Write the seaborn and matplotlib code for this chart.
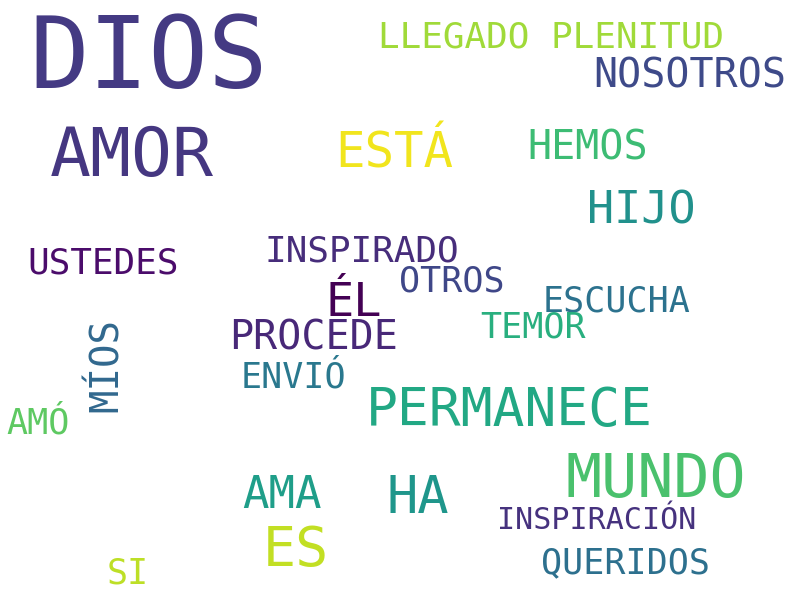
import seaborn as sns
import matplotlib.pyplot as plt

sns.set_style("white")
plt.rcParams['font.family'] = ['DejaVu Sans Mono', 'DejaVu Sans']

# words of the cloud and their weights (font size in px)
words = ['DIOS', 'LLEGADO PLENITUD', 'NOSOTROS', 'AMOR', 'ESTÁ', 'HEMOS', 'HIJO',
         'USTEDES', 'INSPIRADO', 'ÉL', 'OTROS', 'ESCUCHA', 'TEMOR', 'PROCEDE',
         'ENVIÓ', 'MÍOS', 'AMÓ', 'PERMANECE', 'MUNDO', 'AMA', 'HA',
         'INSPIRACIÓN', 'ES', 'QUERIDOS', 'SI']
sizes = [99, 36, 40, 68, 49, 40, 45, 36, 36, 47, 35, 35, 35, 40, 35, 39, 35, 53,
         60, 44, 52, 30, 55, 35, 35]
colors = ['#443a83', '#a0da39', '#3e4a89', '#453781', '#f1e51d', '#3dbc74', '#21918c',
          '#4b0c6b', '#472d7b', '#440154', '#3f4788', '#2c728e', '#29af7f', '#482878',
          '#2a788e', '#31688e', '#5ec962', '#22a884', '#4ac16d', '#1f9e89', '#1f968b',
          '#46327e', '#c2df23', '#2d708e', '#bddf26']
# layout: left x, baseline y (pixels from top)
xs = [29, 378, 593, 50, 335, 527, 587, 27, 264, 325, 399, 543, 480, 229,
      241, 107, 6, 366, 566, 242, 387, 497, 263, 541, 107]
ys = [88, 48, 88, 176, 168, 159, 224, 274, 262, 316, 292, 312, 338, 349,
      388, 365, 434, 426, 497, 508, 513, 529, 566, 573, 583]

fig = plt.figure(figsize=(8, 6), dpi=100)
ax = fig.add_axes([0, 0, 1, 1])
ax.set_xlim(0, 800)
ax.set_ylim(600, 0)
ax.axis('off')

for w, s, c, x, y in zip(words, sizes, colors, xs, ys):
    if w == 'MÍOS':
        ax.text(x, y, w, fontsize=s * 0.72, color=c, rotation=90,
                ha='center', va='center')
    else:
        ax.text(x, y, w, fontsize=s * 0.72, color=c, ha='left', va='baseline')

fig.savefig('out.png', dpi=100, facecolor='white')
